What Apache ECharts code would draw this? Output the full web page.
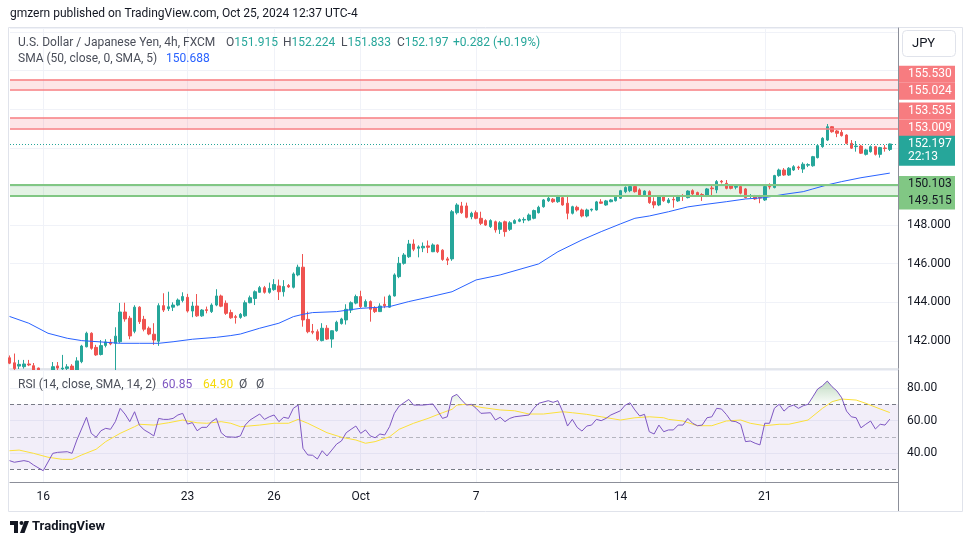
<!DOCTYPE html>
<html>
<head>
<meta charset="utf-8">
<title>USDJPY 4h</title>
<script src="https://cdn.jsdelivr.net/npm/echarts@6.0.0/dist/echarts.min.js"></script>
<style>
  html, body { margin: 0; padding: 0; background: #fff; }
  #chart { width: 970px; height: 545px; }
</style>
</head>
<body>
<div id="chart"></div>
<script>
// one row per 4h bar: [open, high, low, close]
const candles = [
  [141.13, 141.25, 140.80, 140.85], [140.87, 141.35, 140.45, 140.57], [140.70, 141.02, 140.55, 140.79],
  [140.67, 141.02, 140.57, 140.81], [140.81, 141.02, 140.70, 140.76], [140.72, 140.86, 140.30, 140.40],
  [140.60, 140.62, 140.05, 140.20], [140.20, 140.35, 139.58, 139.90], [139.90, 140.30, 139.70, 140.10],
  [140.10, 140.91, 140.00, 140.67], [140.71, 140.91, 140.35, 140.60], [140.55, 141.28, 140.40, 140.60],
  [140.58, 140.80, 140.45, 140.66], [140.70, 140.80, 140.10, 140.30], [140.30, 141.16, 140.15, 140.97],
  [140.93, 141.80, 140.85, 141.74], [141.70, 142.48, 141.67, 142.40], [142.40, 142.45, 141.55, 141.62],
  [141.67, 141.80, 141.23, 141.28], [141.30, 142.05, 141.25, 141.76], [141.77, 142.09, 141.67, 141.95],
  [141.93, 142.10, 141.78, 141.85], [141.88, 142.71, 139.60, 142.25], [141.96, 143.97, 141.90, 143.50],
  [143.50, 143.98, 143.00, 143.14], [143.18, 143.30, 142.09, 142.26], [142.50, 143.85, 142.40, 143.75],
  [143.75, 143.80, 142.88, 143.00], [143.12, 143.30, 142.50, 142.61], [142.66, 142.75, 142.30, 142.36],
  [142.35, 142.92, 141.80, 142.05], [141.99, 143.95, 141.75, 143.83], [143.83, 144.47, 143.50, 143.60],
  [143.67, 144.55, 143.55, 143.77], [143.75, 144.00, 143.55, 143.86], [143.86, 144.20, 143.80, 144.12],
  [144.10, 144.52, 144.00, 144.30], [144.26, 144.44, 143.47, 143.55], [143.55, 144.03, 143.23, 143.81],
  [143.81, 144.43, 143.25, 143.30], [143.30, 143.65, 143.25, 143.60], [143.62, 143.78, 143.43, 143.58],
  [143.52, 143.95, 143.45, 143.86], [143.86, 144.68, 143.80, 144.33], [144.33, 144.40, 143.75, 143.80],
  [143.95, 144.10, 143.35, 143.43], [143.47, 143.62, 143.15, 143.20], [143.26, 143.35, 142.90, 143.22],
  [143.22, 143.45, 143.15, 143.38], [143.30, 144.10, 143.25, 143.98], [143.98, 144.35, 143.95, 144.24],
  [144.20, 144.62, 143.86, 144.55], [144.52, 144.85, 144.50, 144.76], [144.76, 144.85, 144.45, 144.52],
  [144.52, 145.02, 144.45, 144.72], [144.66, 145.20, 144.60, 144.92], [144.85, 145.18, 144.12, 144.55],
  [144.55, 145.15, 144.30, 144.82], [144.87, 144.95, 144.75, 144.80], [144.78, 145.55, 144.72, 145.47],
  [145.42, 145.95, 145.35, 145.82], [145.82, 146.50, 142.74, 143.09], [143.12, 143.52, 142.40, 142.48],
  [142.50, 142.88, 142.35, 142.45], [142.48, 142.60, 142.00, 142.09], [142.02, 142.92, 141.98, 142.66],
  [142.66, 142.82, 142.05, 142.10], [142.10, 142.55, 141.65, 142.53], [142.53, 143.05, 142.48, 142.97],
  [142.90, 143.20, 142.85, 143.14], [143.09, 143.90, 142.85, 143.64], [143.60, 144.05, 143.45, 143.98],
  [143.96, 144.40, 143.90, 144.30], [144.30, 144.60, 143.70, 143.78], [143.78, 144.15, 143.75, 144.04],
  [144.04, 144.10, 143.00, 143.64], [143.70, 143.80, 143.45, 143.52], [143.52, 143.95, 143.50, 143.81],
  [143.90, 144.30, 143.70, 143.82], [143.75, 144.40, 143.72, 144.33], [144.33, 145.50, 144.30, 145.42],
  [145.33, 146.35, 145.25, 146.02], [146.02, 146.55, 145.95, 146.45], [146.36, 147.23, 146.30, 147.02],
  [147.02, 147.26, 146.65, 146.75], [146.80, 146.95, 146.33, 146.87], [146.82, 147.10, 146.60, 146.90],
  [146.92, 147.20, 146.55, 146.85], [146.62, 147.05, 146.60, 146.97], [146.97, 147.00, 146.55, 146.62],
  [146.70, 146.75, 146.15, 146.22], [146.25, 146.35, 145.93, 146.18], [146.25, 148.78, 146.15, 148.69],
  [148.64, 149.13, 148.55, 149.04], [148.99, 149.20, 148.58, 148.64], [148.99, 149.16, 148.35, 148.40],
  [148.43, 148.69, 148.30, 148.61], [148.64, 148.75, 148.30, 148.35], [148.35, 148.69, 148.00, 148.09],
  [148.23, 148.30, 147.95, 148.00], [147.92, 148.30, 147.85, 148.23], [148.17, 148.23, 147.61, 147.75],
  [147.78, 148.20, 147.54, 148.12], [148.17, 148.23, 147.40, 147.66], [147.78, 148.20, 147.70, 148.12],
  [148.09, 148.30, 148.05, 148.23], [148.20, 148.35, 148.15, 148.28], [148.26, 148.40, 148.10, 148.29],
  [148.26, 148.60, 148.20, 148.52], [148.35, 148.80, 148.30, 148.75], [148.64, 149.00, 148.60, 148.92],
  [148.95, 149.35, 148.90, 149.30], [149.26, 149.45, 149.20, 149.39], [149.34, 149.40, 149.15, 149.21],
  [149.21, 149.56, 149.15, 149.47], [149.42, 149.50, 149.00, 149.04], [149.13, 149.56, 148.30, 148.61],
  [148.61, 149.00, 148.55, 148.95], [148.92, 149.00, 148.70, 148.78], [148.78, 148.85, 148.40, 148.47],
  [148.47, 148.85, 148.40, 148.78], [148.78, 148.85, 148.70, 148.82], [148.78, 149.25, 148.75, 149.20],
  [149.20, 149.34, 149.10, 149.13], [149.04, 149.30, 149.00, 149.25], [149.21, 149.35, 149.18, 149.30],
  [149.26, 149.50, 149.22, 149.47], [149.39, 149.82, 149.35, 149.78], [149.73, 150.00, 149.65, 149.95],
  [149.78, 150.05, 149.70, 149.99], [149.99, 150.08, 149.68, 149.73], [149.82, 149.90, 149.50, 149.56],
  [149.56, 149.80, 149.52, 149.76], [149.73, 149.80, 149.10, 149.16], [149.21, 149.44, 148.87, 149.04],
  [149.04, 149.52, 148.98, 149.47], [149.47, 149.56, 149.20, 149.26], [149.17, 149.40, 149.12, 149.30],
  [149.33, 149.47, 148.90, 149.30], [149.25, 149.56, 149.20, 149.51], [149.53, 149.60, 149.25, 149.49],
  [149.42, 149.80, 149.38, 149.76], [149.78, 149.85, 149.55, 149.61], [149.68, 149.73, 149.46, 149.51],
  [149.58, 149.65, 149.25, 149.55], [149.51, 149.92, 149.45, 149.87], [149.92, 150.11, 149.52, 149.88],
  [149.82, 150.33, 149.65, 150.25], [150.27, 150.33, 150.15, 150.23], [150.16, 150.33, 149.85, 149.90],
  [150.08, 150.12, 149.85, 149.90], [149.96, 150.08, 149.85, 150.00], [149.99, 150.02, 149.59, 149.65],
  [149.87, 149.92, 149.38, 149.42], [149.49, 149.60, 149.40, 149.52], [149.51, 149.56, 149.30, 149.35],
  [149.44, 149.56, 149.13, 149.40], [149.30, 150.02, 149.25, 149.99], [150.00, 150.16, 149.85, 149.97],
  [149.94, 150.60, 149.90, 150.56], [150.56, 150.92, 150.50, 150.85], [150.85, 150.95, 150.55, 150.59],
  [150.59, 151.00, 150.55, 150.94], [150.85, 151.10, 150.80, 151.02], [151.00, 151.07, 150.85, 150.96],
  [150.90, 151.25, 150.70, 151.15], [151.10, 151.20, 151.00, 151.13], [151.07, 151.58, 151.02, 151.54],
  [151.49, 152.15, 151.45, 152.11], [152.06, 152.55, 152.00, 152.49], [152.40, 153.23, 152.35, 153.09],
  [153.09, 153.12, 152.78, 152.83], [152.87, 152.92, 152.55, 152.75], [152.80, 152.92, 152.58, 152.63],
  [152.66, 152.70, 152.18, 152.23], [152.23, 152.40, 151.94, 151.98], [152.06, 152.35, 151.80, 152.09],
  [152.09, 152.15, 151.68, 151.72], [151.66, 151.95, 151.60, 151.89], [151.80, 152.12, 151.75, 152.06],
  [152.06, 152.10, 151.60, 151.66], [151.66, 152.05, 151.49, 152.01], [151.99, 152.14, 151.80, 151.96],
  [151.915, 152.224, 151.833, 152.197]
];

// SMA 50: [bar index, value]
const sma50 = [
  [0, 143.27], [4, 142.92], [8, 142.40], [12, 142.14], [15, 142.02], [19, 141.95], [23, 141.88],
  [27, 141.88], [31, 141.88], [34, 141.96], [38, 142.09], [43, 142.19], [46, 142.28], [48, 142.36],
  [52, 142.66], [56, 142.92], [59, 143.26], [61, 143.38], [63, 143.47], [68, 143.52], [73, 143.69],
  [79, 143.78], [83, 144.04], [87, 144.26], [92, 144.55], [97, 145.16], [102, 145.42], [110, 145.99],
  [114, 146.62], [119, 147.23], [123, 147.66], [127, 148.06], [130, 148.35], [133, 148.47],
  [137, 148.69], [141, 148.94], [145, 149.08], [149, 149.21], [153, 149.35], [157, 149.42],
  [161, 149.59], [165, 149.73], [167, 149.87], [170, 150.08], [173, 150.25], [177, 150.45],
  [183, 150.69]
];

const rsi = [
  [0, 35.3], [1, 34.3], [3, 35.3], [4, 34.7], [5, 32.6], [7, 29.1], [9, 39.8], [10, 40.4], [12, 40.8],
  [13, 39.8], [14, 48.0], [16, 62.0], [17, 52.1], [18, 49.7], [19, 53.7], [20, 55.2], [21, 54.6],
  [22, 59.3], [23, 67.5], [24, 64.0], [25, 59.3], [26, 65.4], [27, 57.2], [28, 54.2], [29, 52.5],
  [30, 50.5], [31, 61.3], [32, 60.7], [33, 60.7], [34, 61.3], [35, 63.4], [36, 64.4], [37, 57.8],
  [38, 58.7], [39, 53.7], [40, 55.8], [41, 55.8], [42, 59.3], [43, 61.3], [44, 52.5], [45, 50.0],
  [47, 49.7], [48, 50.5], [49, 57.2], [50, 60.3], [52, 64.0], [53, 60.7], [54, 62.3], [55, 63.4],
  [56, 59.3], [57, 62.0], [58, 61.3], [59, 67.5], [60, 69.5], [61, 42.9], [62, 38.8], [63, 38.6],
  [64, 36.3], [65, 41.4], [66, 38.2], [67, 41.8], [68, 45.5], [69, 47.4], [70, 52.5], [71, 54.6],
  [72, 56.6], [73, 52.1], [74, 54.2], [75, 50.5], [76, 49.4], [77, 51.7], [78, 51.1], [79, 56.2],
  [80, 64.4], [81, 68.9], [83, 73.0], [84, 69.5], [85, 69.5], [86, 69.5], [88, 70.2], [89, 66.0],
  [90, 61.3], [91, 62.3], [92, 74.6], [93, 76.1], [94, 72.6], [95, 69.5], [96, 70.0], [97, 67.5],
  [98, 64.4], [100, 64.8], [101, 60.3], [102, 62.0], [103, 59.3], [104, 61.3], [105, 62.3],
  [108, 63.4], [109, 67.5], [110, 70.6], [112, 72.2], [113, 71.2], [114, 72.2], [115, 65.4],
  [116, 56.6], [117, 60.7], [118, 55.8], [119, 53.5], [120, 56.6], [121, 57.2], [122, 60.7],
  [123, 59.9], [124, 61.3], [125, 63.4], [127, 66.0], [128, 69.5], [129, 70.9], [130, 66.5],
  [131, 62.8], [132, 63.8], [133, 53.1], [134, 51.7], [135, 57.2], [136, 53.1], [137, 54.2],
  [138, 54.2], [139, 57.2], [140, 57.2], [141, 61.3], [142, 58.3], [143, 56.8], [144, 57.2],
  [145, 61.7], [146, 62.3], [147, 67.5], [148, 67.1], [149, 63.8], [150, 59.7], [151, 59.3],
  [152, 57.7], [153, 47.0], [154, 47.4], [155, 46.0], [156, 45.0], [157, 58.3], [158, 58.3],
  [159, 67.5], [160, 70.0], [161, 65.8], [162, 68.5], [163, 69.5], [164, 67.5], [165, 69.1],
  [166, 70.0], [167, 74.6], [168, 79.4], [169, 81.4], [170, 84.3], [171, 80.8], [172, 78.2],
  [173, 74.0], [174, 65.8], [175, 62.3], [176, 61.7], [177, 55.5], [178, 57.7], [179, 59.7],
  [180, 54.8], [181, 57.7], [182, 57.2], [183, 60.85]
];

const rsiMa = [
  [0, 41.4], [2, 41.8], [5, 39.8], [8, 37.4], [11, 36.1], [13, 36.1], [15, 38.8], [18, 42.3],
  [20, 47.0], [23, 52.1], [26, 56.2], [27, 57.7], [30, 57.2], [33, 58.6], [36, 60.3], [39, 58.6],
  [41, 58.3], [44, 59.3], [46, 58.3], [48, 56.2], [52, 57.2], [55, 58.3], [58, 58.3], [60, 60.7],
  [62, 58.3], [66, 52.5], [69, 49.7], [72, 48.0], [74, 46.0], [76, 47.0], [79, 50.0], [81, 54.6],
  [84, 58.3], [87, 61.3], [90, 64.8], [92, 66.9], [93, 69.5], [95, 70.0], [98, 68.1], [102, 66.5],
  [105, 66.0], [108, 64.0], [111, 64.0], [115, 65.4], [117, 64.8], [120, 63.8], [123, 62.3],
  [127, 60.3], [130, 61.7], [133, 62.3], [136, 61.7], [137, 60.7], [140, 59.7], [143, 56.8],
  [146, 56.8], [149, 59.7], [152, 60.3], [154, 58.3], [157, 56.8], [160, 57.7], [162, 57.7],
  [166, 60.3], [169, 67.5], [171, 71.6], [173, 73.2], [176, 72.6], [178, 70.6], [181, 67.1],
  [183, 64.9]
];

const tickIdx = [7, 37, 55, 73, 97, 127, 157];
const tickText = ['16', '23', '26', 'Oct', '7', '14', '21'];

const redZones = [[155.024, 155.530], [153.009, 153.535]];
const greenZone = [149.515, 150.103];
const lastPrice = 152.197;
const barTimer = '22:13';
const ohlcText = ['151.915', '152.224', '151.833', '152.197'];
const changeText = '+0.282 (+0.19%)';
const smaLast = '150.688';
const rsiLast = '60.85';
const rsiMaLast = '64.90';

const chartDom = document.getElementById('chart');
const myChart = echarts.init(chartDom);

const font = 'Roboto, "Liberation Sans", sans-serif';
const up = '#26a69a';
const down = '#ef5350';
const gridColor = '#f0f2f8';
const axisColor = '#8c8f99';
const pink = '#f77c80';
const green = '#81c784';
const xMin = 0.1, xMax = 184.7;

const candleData = candles.map((c, i) => [i, c[0], c[3], c[2], c[1]]);

// price tag on the right scale, dy shifts it so stacked tags do not overlap
function tag(bg, fg, dy) {
  return {
    show: true, position: 'end', distance: 1, offset: [0, dy],
    backgroundColor: bg, color: fg, fontFamily: font, fontSize: 12, lineHeight: 13,
    padding: [2, 4, 2, 9], width: 43,
    formatter: p => p.value.toFixed(3)
  };
}

function text(x, y, str, opts) {
  return {
    type: 'text', x: x, y: y, silent: true, zlevel: 1, z: 10,
    style: Object.assign({
      text: str, fill: '#131722', fontSize: 12, fontFamily: font,
      align: 'left', textAlign: 'left', verticalAlign: 'middle', textVerticalAlign: 'middle'
    }, opts || {})
  };
}

const legendGray = '#4a4e59';
const valRich = { v: { fill: up, fontSize: 12, fontFamily: font } };

var option = {
  animation: false,
  backgroundColor: '#ffffff',
  textStyle: { fontFamily: font },
  grid: [
    { left: 10, right: 72, top: 28, height: 341 },
    { left: 10, right: 72, top: 370, height: 112 }
  ],
  xAxis: [
    {
      type: 'value', gridIndex: 0, min: xMin, max: xMax,
      axisLine: { show: true, onZero: false, lineStyle: { color: '#dcdfe6', width: 1.5 } },
      axisTick: { show: false, customValues: tickIdx },
      axisLabel: { show: false },
      splitLine: { show: true, lineStyle: { color: gridColor } }
    },
    {
      // RSI pane sits on its own layer so it hides candle wicks below the price pane
      type: 'value', gridIndex: 1, min: xMin, max: xMax, zlevel: 1, z: 1,
      axisLine: { show: true, onZero: false, lineStyle: { color: axisColor } },
      axisTick: { show: false, customValues: tickIdx },
      axisLabel: {
        customValues: tickIdx, color: '#131722', fontSize: 12, margin: 9,
        formatter: v => tickText[tickIdx.indexOf(Math.round(v))] || ''
      },
      splitLine: { show: true, lineStyle: { color: gridColor } }
    }
  ],
  yAxis: [
    {
      type: 'value', gridIndex: 0, position: 'right', min: 140.55, max: 158.2,
      splitNumber: 9, minInterval: 2, maxInterval: 2,
      axisLine: { show: true, lineStyle: { color: axisColor } },
      axisTick: { show: false },
      axisLabel: {
        color: '#131722', fontSize: 12, margin: 9,
        formatter: v => (v >= 142 && v <= 148 && Math.abs(v - Math.round(v)) < 1e-6) ? v.toFixed(3) : ''
      },
      splitLine: { show: true, lineStyle: { color: gridColor } }
    },
    {
      type: 'value', gridIndex: 1, position: 'right', min: 22.15, max: 91.1,
      splitNumber: 3, minInterval: 20, maxInterval: 20, zlevel: 1, z: 1,
      axisLine: { show: true, lineStyle: { color: axisColor } },
      axisTick: { show: false },
      axisLabel: {
        color: '#131722', fontSize: 12, margin: 9,
        formatter: v => (Math.abs(v - Math.round(v)) < 1e-6 && v >= 40 && v <= 80) ? v.toFixed(2) : ''
      },
      splitLine: { show: true, lineStyle: { color: gridColor } }
    }
  ],
  series: [
    {
      name: 'USDJPY', type: 'candlestick', xAxisIndex: 0, yAxisIndex: 0,
      data: candleData, encode: { x: 0, y: [1, 2, 3, 4] },
      barWidth: 3, clip: true, z: 2,
      itemStyle: { color: up, color0: down, borderColor: up, borderColor0: down, borderWidth: 1 },
      markArea: {
        silent: true,
        data: [
          [{ yAxis: redZones[0][0], itemStyle: { color: 'rgba(242,54,69,0.13)' } }, { yAxis: redZones[0][1] }],
          [{ yAxis: redZones[1][0], itemStyle: { color: 'rgba(242,54,69,0.13)' } }, { yAxis: redZones[1][1] }],
          [{ yAxis: greenZone[0], itemStyle: { color: 'rgba(76,175,80,0.15)' } }, { yAxis: greenZone[1] }]
        ]
      },
      markLine: {
        silent: true, symbol: 'none', animation: false, precision: 3,
        data: [
          { yAxis: redZones[0][1], lineStyle: { color: pink, width: 1.5, type: 'solid' }, label: tag(pink, '#fff', -5.4) },
          { yAxis: redZones[0][0], lineStyle: { color: pink, width: 1.5, type: 'solid' }, label: tag(pink, '#fff', 1.8) },
          { yAxis: redZones[1][1], lineStyle: { color: pink, width: 1.5, type: 'solid' }, label: tag(pink, '#fff', -7.1) },
          { yAxis: redZones[1][0], lineStyle: { color: pink, width: 1.5, type: 'solid' }, label: tag(pink, '#fff', -0.3) },
          { yAxis: greenZone[1], lineStyle: { color: green, width: 2, type: 'solid' }, label: tag(green, '#131722', 0) },
          { yAxis: greenZone[0], lineStyle: { color: green, width: 2, type: 'solid' }, label: tag(green, '#131722', 5.1) },
          {
            yAxis: lastPrice, lineStyle: { color: up, width: 1, type: [1, 2] },
            label: Object.assign(tag(up, '#fff', 6.7), {
              formatter: p => p.value.toFixed(3) + '\n' + barTimer
            })
          }
        ]
      }
    },
    {
      name: 'SMA 50', type: 'line', xAxisIndex: 0, yAxisIndex: 0, data: sma50,
      symbol: 'none', z: 3, lineStyle: { color: '#2962ff', width: 1 }
    },
    {
      name: 'RSI MA', type: 'line', xAxisIndex: 1, yAxisIndex: 1, data: rsiMa,
      symbol: 'none', zlevel: 1, z: 3, lineStyle: { color: '#fbe03a', width: 1 }
    },
    {
      name: 'RSI', type: 'line', xAxisIndex: 1, yAxisIndex: 1, data: rsi,
      symbol: 'none', zlevel: 1, z: 4, lineStyle: { color: '#7e57c2', width: 1 },
      // overbought glow: gradient is fully clear below the 70 line
      areaStyle: {
        color: new echarts.graphic.LinearGradient(0, 381, 0, 404.3, [
          { offset: 0, color: 'rgba(56,142,60,0.45)' },
          { offset: 0.98, color: 'rgba(56,142,60,0.04)' },
          { offset: 1, color: 'rgba(56,142,60,0)' }
        ], true)
      },
      markArea: {
        silent: true, zlevel: 1, z: 1,
        data: [[{ yAxis: 30, itemStyle: { color: 'rgba(126,87,194,0.1)' } }, { yAxis: 70 }]]
      },
      markLine: {
        silent: true, symbol: 'none', animation: false, zlevel: 1, z: 2, label: { show: false },
        data: [
          { yAxis: 70, lineStyle: { color: '#787b86', width: 1, type: [4, 3] } },
          { yAxis: 50, lineStyle: { color: 'rgba(120,123,134,0.5)', width: 1, type: [4, 3] } },
          { yAxis: 30, lineStyle: { color: '#787b86', width: 1, type: [4, 3] } }
        ]
      }
    }
  ],
  graphic: [
    // white backing of the RSI pane (same layer as the pane)
    { type: 'rect', silent: true, zlevel: 1, z: 0, shape: { x: 9, y: 370, width: 889, height: 112 },
      style: { fill: '#ffffff' } },
    // outer frame
    { type: 'rect', silent: true, z: 0, shape: { x: 8.5, y: 27.5, width: 954, height: 484 },
      style: { fill: 'none', stroke: '#e0e3eb', lineWidth: 1 } },
    { type: 'line', silent: true, zlevel: 1, z: 1, shape: { x1: 898.5, y1: 482, x2: 898.5, y2: 511 },
      style: { stroke: axisColor, lineWidth: 1 } },
    text(10, 14, 'gmzern published on TradingView.com, Oct 25, 2024 12:37 UTC-4'),
    text(18, 43, 'U.S. Dollar / Japanese Yen, 4h, FXCM', { fill: legendGray }),
    text(226, 43, 'O{v|' + ohlcText[0] + '}', { fill: legendGray, rich: valRich }),
    text(283, 43, 'H{v|' + ohlcText[1] + '}', { fill: legendGray, rich: valRich }),
    text(341, 43, 'L{v|' + ohlcText[2] + '}', { fill: legendGray, rich: valRich }),
    text(397, 43, 'C{v|' + ohlcText[3] + '}', { fill: legendGray, rich: valRich }),
    text(453, 43, changeText, { fill: up }),
    text(18, 59, 'SMA (50, close, 0, SMA, 5)', { fill: legendGray }),
    text(166, 59, smaLast, { fill: '#2962ff' }),
    text(18, 385, 'RSI (14, close, SMA, 14, 2)', { fill: legendGray }),
    text(162, 385, rsiLast, { fill: '#7e57c2' }),
    text(203, 385, rsiMaLast, { fill: '#f5d90a' }),
    text(239, 385, '\u00d8', { fill: legendGray }),
    text(256, 385, '\u00d8', { fill: legendGray }),
    // currency button
    { type: 'rect', silent: true, zlevel: 1, z: 9, shape: { x: 902.5, y: 30.5, width: 53, height: 26, r: 4 },
      style: { fill: '#fff', stroke: '#e0e3eb', lineWidth: 1 } },
    text(912, 44, 'JPY', { fontSize: 13 }),
    // TradingView logo
    { type: 'group', silent: true, zlevel: 1, z: 10, children: [
      { type: 'polygon', shape: { points: [[10, 521], [18, 521], [18, 533], [14, 533], [14, 525], [10, 525]] }, style: { fill: '#131722' } },
      { type: 'circle', shape: { cx: 21.5, cy: 523, r: 2 }, style: { fill: '#131722' } },
      { type: 'polygon', shape: { points: [[24.5, 521], [29, 521], [24.5, 533], [20, 533]] }, style: { fill: '#131722' } }
    ] },
    text(32, 527, 'TradingView', { fontSize: 13, fontWeight: 'bold' })
  ]
};

option && myChart.setOption(option);
</script>
</body>
</html>
